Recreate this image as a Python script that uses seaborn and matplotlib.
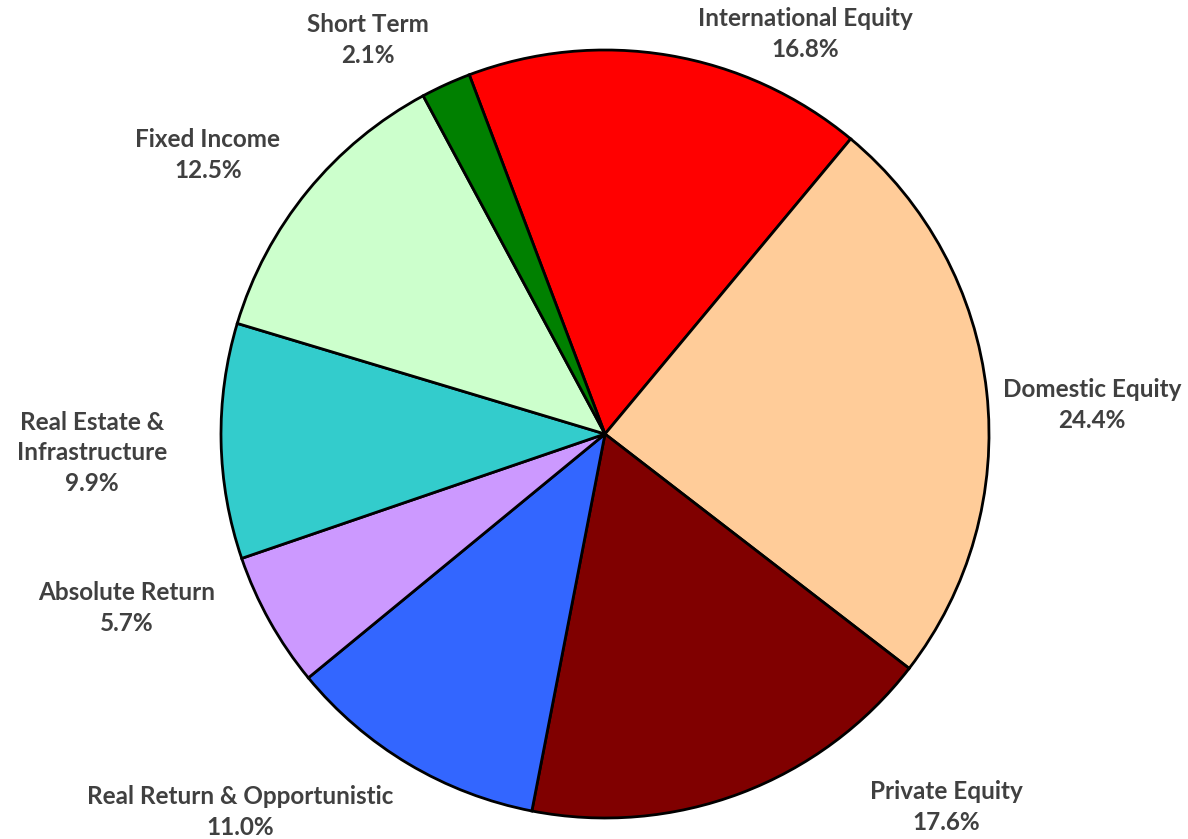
import matplotlib
matplotlib.use("Agg")
import matplotlib.pyplot as plt
import seaborn as sns

# asset allocation, clockwise from the top
categories = ["International Equity", "Domestic Equity", "Private Equity",
              "Real Return & Opportunistic", "Absolute Return",
              "Real Estate &\nInfrastructure", "Fixed Income", "Short Term"]
shares = [16.8, 24.4, 17.6, 11.0, 5.7, 9.9, 12.5, 2.1]
colors = ["#FF0000", "#FFCC99", "#800000", "#3366FF",
          "#CC99FF", "#33CCCC", "#CCFFCC", "#008000"]

# label centres, in pie radius units
label_xy = [(0.521, 1.042), (1.268, 0.076), (0.888, -0.971), (-0.951, -0.984),
            (-1.245, -0.453), (-1.336, -0.049), (-1.034, 0.727), (-0.617, 1.026)]

sns.set_theme(style="white")
plt.rcParams["font.family"] = ["Lato", "DejaVu Sans"]

fig = plt.figure(figsize=(11.88, 8.39), dpi=100)
ax = fig.add_axes([0, 0, 1, 1])

wedges, _ = ax.pie(shares, colors=colors, startangle=110.7, counterclock=False,
                   radius=1, wedgeprops=dict(edgecolor="black", linewidth=2))

for name, val, (x, y) in zip(categories, shares, label_xy):
    ax.text(x, y, f"{name}\n{val:.1f}%", ha="center", va="center",
            fontsize=17.5, fontweight="bold", color="#404040", linespacing=1.4)

ax.set_xlim(-605 / 384, 583 / 384)
ax.set_ylim(-405 / 384, 434 / 384)
ax.set_aspect("auto")
ax.axis("off")

fig.savefig("out.png", dpi=100)
